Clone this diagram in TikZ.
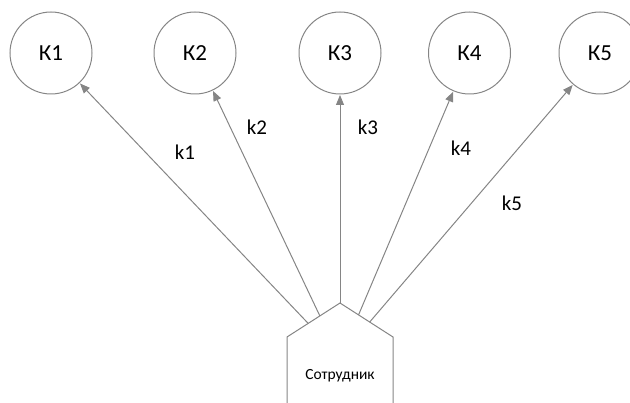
\documentclass[tikz,border=0pt]{standalone}
\usepackage{fontspec}
\setmainfont{Carlito}
\usetikzlibrary{arrows.meta,calc}
\definecolor{ln}{HTML}{858585}
\tikzset{
  kcircle/.style={circle, draw=ln, line width=1pt, minimum size=82pt, inner sep=0pt, font=\fontsize{23}{23}\selectfont},
  conn/.style={draw=ln, line width=1pt, -{Triangle[length=10pt,width=8pt]}, shorten >=0.5pt},
  lbl/.style={font=\fontsize{21}{21}\selectfont, inner sep=0pt},
}
\begin{document}
\begin{tikzpicture}[x=1pt,y=-1pt]
\clip (0,0) rectangle (630,403);
\useasboundingbox (0,0) rectangle (630,403);
\node[kcircle] (K1) at (51,53) {К1};
\node[kcircle] (K2) at (195,53) {К2};
\node[kcircle] (K3) at (340,53) {К3};
\node[kcircle] (K4) at (469.5,53) {К4};
\node[kcircle] (K5) at (600,53) {К5};
% employee house shape
\coordinate (bl) at (287,405);
\coordinate (sl) at (287,337);
\coordinate (ap) at (340,303);
\coordinate (sr) at (393,337);
\coordinate (br) at (393,405);
\draw[ln, line width=1pt] (bl) -- (sl) -- (ap) -- (sr) -- (br);
\node[font=\fontsize{15.5}{15.5}\selectfont] (emp) at (340,376) {Сотрудник};
\coordinate (s1) at ($(sl)!0.4!(ap)$);
\coordinate (s2) at ($(sl)!0.62!(ap)$);
\coordinate (s4) at ($(ap)!0.35!(sr)$);
\coordinate (s5) at ($(ap)!0.56!(sr)$);
\draw[conn] (s1) -- (K1);
\draw[conn] (s2) -- (K2);
\draw[conn] (ap) -- (K3);
\draw[conn] (s4) -- (K4);
\draw[conn] (s5) -- (K5);
\node[lbl] (l1) at (185,152) {k1};
\node[lbl] (l2) at (257,127.5) {k2};
\node[lbl] (l3) at (368,127.5) {k3};
\node[lbl] (l4) at (461,148) {k4};
\node[lbl] (l5) at (512,203) {k5};
\end{tikzpicture}
\end{document}
